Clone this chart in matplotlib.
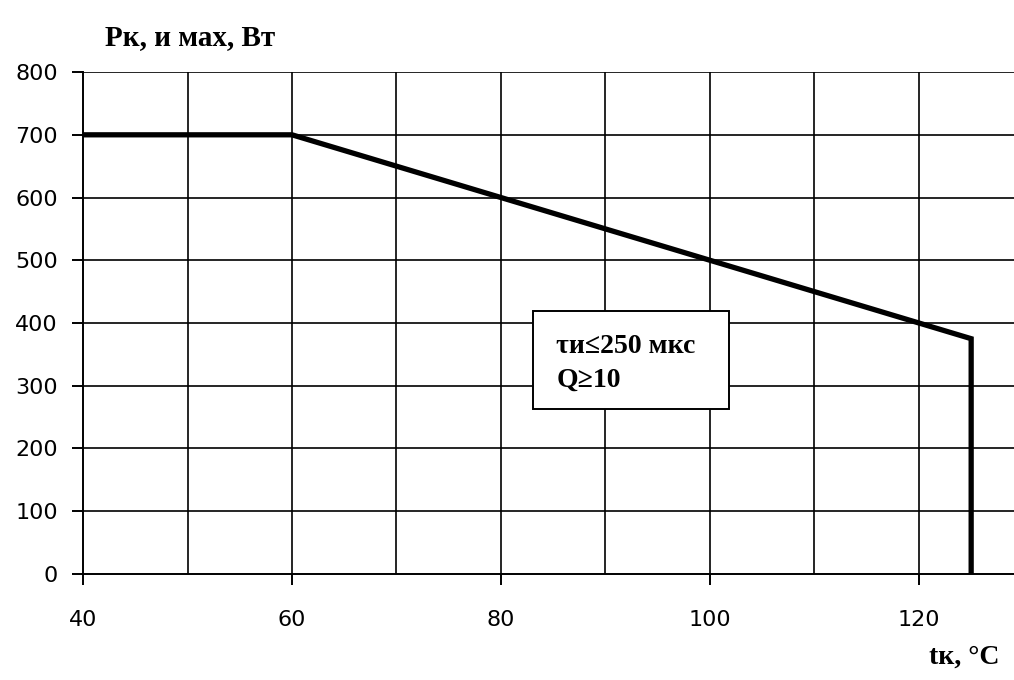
#!/usr/bin/env python

import matplotlib
matplotlib.use('Agg')
import matplotlib.pyplot as plt
from matplotlib.patches import Rectangle

# collector temperature (deg C) and max pulse power (W)
t_case = [40, 60, 120, 125, 125]
p_max = [700, 700, 400, 375, 0]

x_ticks = [40, 60, 80, 100, 120]
x_grid = [50, 60, 70, 80, 90, 100, 110, 120]
y_ticks = [0, 100, 200, 300, 400, 500, 600, 700, 800]

note_lines = ['τи≤250 мкс', 'Q≥10']

#----------------------------------------------------------------------

def main():

	fig = plt.figure(figsize=(10.14, 6.8), dpi=100)
	ax = fig.add_axes([0.0819, 0.156, 0.9181, 0.738])

	ax.set_xlim(40, 129.1)
	ax.set_ylim(0, 800)

	for x in x_grid:
		ax.axvline(x, color='black', linewidth=1.2, zorder=1)
	for y in y_ticks[1:]:
		ax.axhline(y, color='black', linewidth=1.2, zorder=1)

	ax.plot(t_case, p_max, color='black', linewidth=3.8, solid_joinstyle='miter', zorder=3)

	for s in ['top', 'right']:
		ax.spines[s].set_visible(False)
	for s in ['left', 'bottom']:
		ax.spines[s].set_linewidth(1.4)

	ax.set_xticks(x_ticks)
	ax.set_yticks(y_ticks)
	ax.tick_params(direction='out', length=8, width=1.4, labelsize=16, pad=10)
	ax.tick_params(axis='x', pad=18)

	# note box
	ax.add_patch(Rectangle((83.1, 263), 18.7, 156, facecolor='white',
		edgecolor='black', linewidth=1.4, zorder=4))
	ax.text(85.3, 362, note_lines[0], fontsize=20, fontweight='bold',
		family='Liberation Serif', va='center', ha='left', zorder=5)
	ax.text(85.3, 309, note_lines[1], fontsize=20, fontweight='bold',
		family='Liberation Serif', va='center', ha='left', zorder=5)

	fig.text(0.104, 0.925, 'Рк, и мах, Вт', fontsize=21, fontweight='bold',
		family='Liberation Serif', va='bottom', ha='left')
	fig.text(0.986, 0.015, 'tк, °C', fontsize=20, fontweight='bold',
		family='Liberation Serif', va='bottom', ha='right')

	fig.savefig('out.png', dpi=100)

#----------------------------------------------------------------------

if __name__ == '__main__':
	main()
